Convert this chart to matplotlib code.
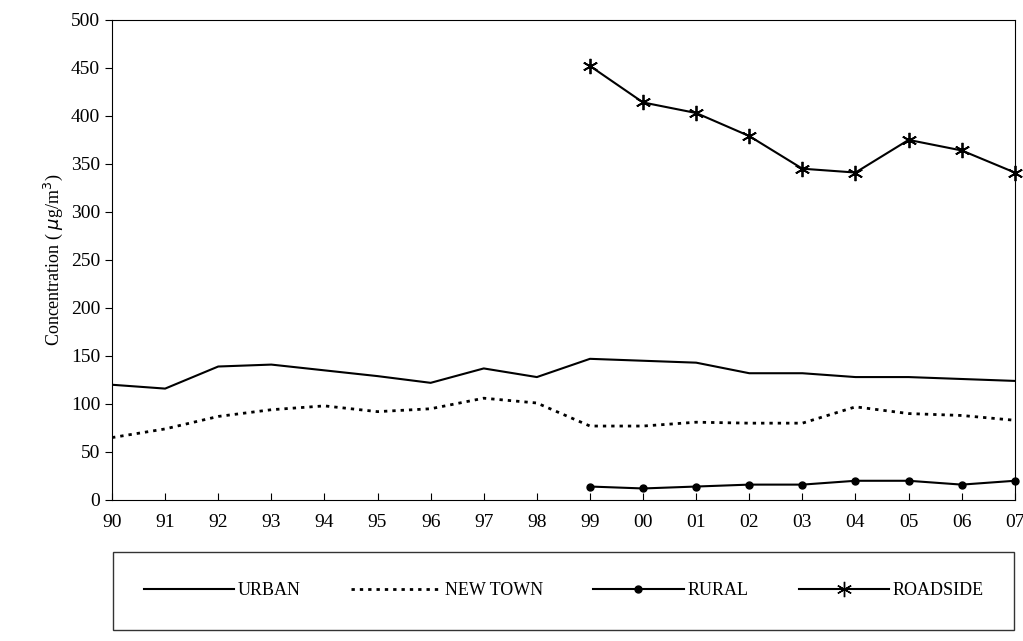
import matplotlib.pyplot as plt
from matplotlib.lines import Line2D

plt.rcParams['font.family'] = ['Liberation Serif', 'DejaVu Serif']

years = ["90", "91", "92", "93", "94", "95", "96", "97", "98", "99",
         "00", "01", "02", "03", "04", "05", "06", "07"]
urban = [120, 116, 139, 141, 135, 129, 122, 137, 128, 147, 145, 143, 132, 132, 128, 128, 126, 124]
new_town = [65, 74, 87, 94, 98, 92, 95, 106, 101, 77, 77, 81, 80, 80, 97, 90, 88, 83]
rural = [14, 12, 14, 16, 16, 20, 20, 16, 20]
roadside = [452, 414, 403, 379, 345, 341, 375, 364, 341]

x = list(range(len(years)))
x_late = x[9:]

fig = plt.figure(figsize=(10.23, 6.41), dpi=100)
ax = fig.add_axes([0.1095, 0.22, 0.8825, 0.749])

ax.plot(x, urban, color="black", lw=1.5)
ax.plot(x, new_town, color="black", lw=2, linestyle=(0, (1.2, 1.8)))
ax.plot(x_late, rural, color="black", lw=1.5, marker="o", markersize=5, clip_on=False)
ax.plot(x_late, roadside, color="black", lw=1.5, marker=(6, 2, 0), markersize=11,
        markeredgewidth=1.3, clip_on=False)

ax.set_xlim(0, 17)
ax.set_ylim(0, 500)
ax.set_yticks(range(0, 501, 50))
ax.set_xticks(x)
ax.set_xticklabels(years)
ax.tick_params(axis="x", direction="in", length=5, labelsize=14, pad=10)
ax.tick_params(axis="y", direction="out", length=5, labelsize=14)
ax.set_ylabel("Concentration ( $\\mu$g/m$^3$)", fontsize=13)

handles = [
    Line2D([], [], color="black", lw=1.5),
    Line2D([], [], color="black", lw=2, linestyle=(0, (1.2, 1.8))),
    Line2D([], [], color="black", lw=1.5, marker="o", markersize=5),
    Line2D([], [], color="black", lw=1.5, marker=(6, 2, 0), markersize=11),
]
leg = fig.legend(handles, ["URBAN", "NEW TOWN", "RURAL", "ROADSIDE"], ncol=4,
                 loc="lower left", bbox_to_anchor=(0.1105, 0.017, 0.881, 0.133),
                 mode="expand", fontsize=13,
                 frameon=True, fancybox=False, edgecolor="black", handlelength=5,
                 handletextpad=0.2, borderpad=1.7, borderaxespad=0)
leg.get_frame().set_linewidth(1)

plt.savefig("out.png", dpi=100)
